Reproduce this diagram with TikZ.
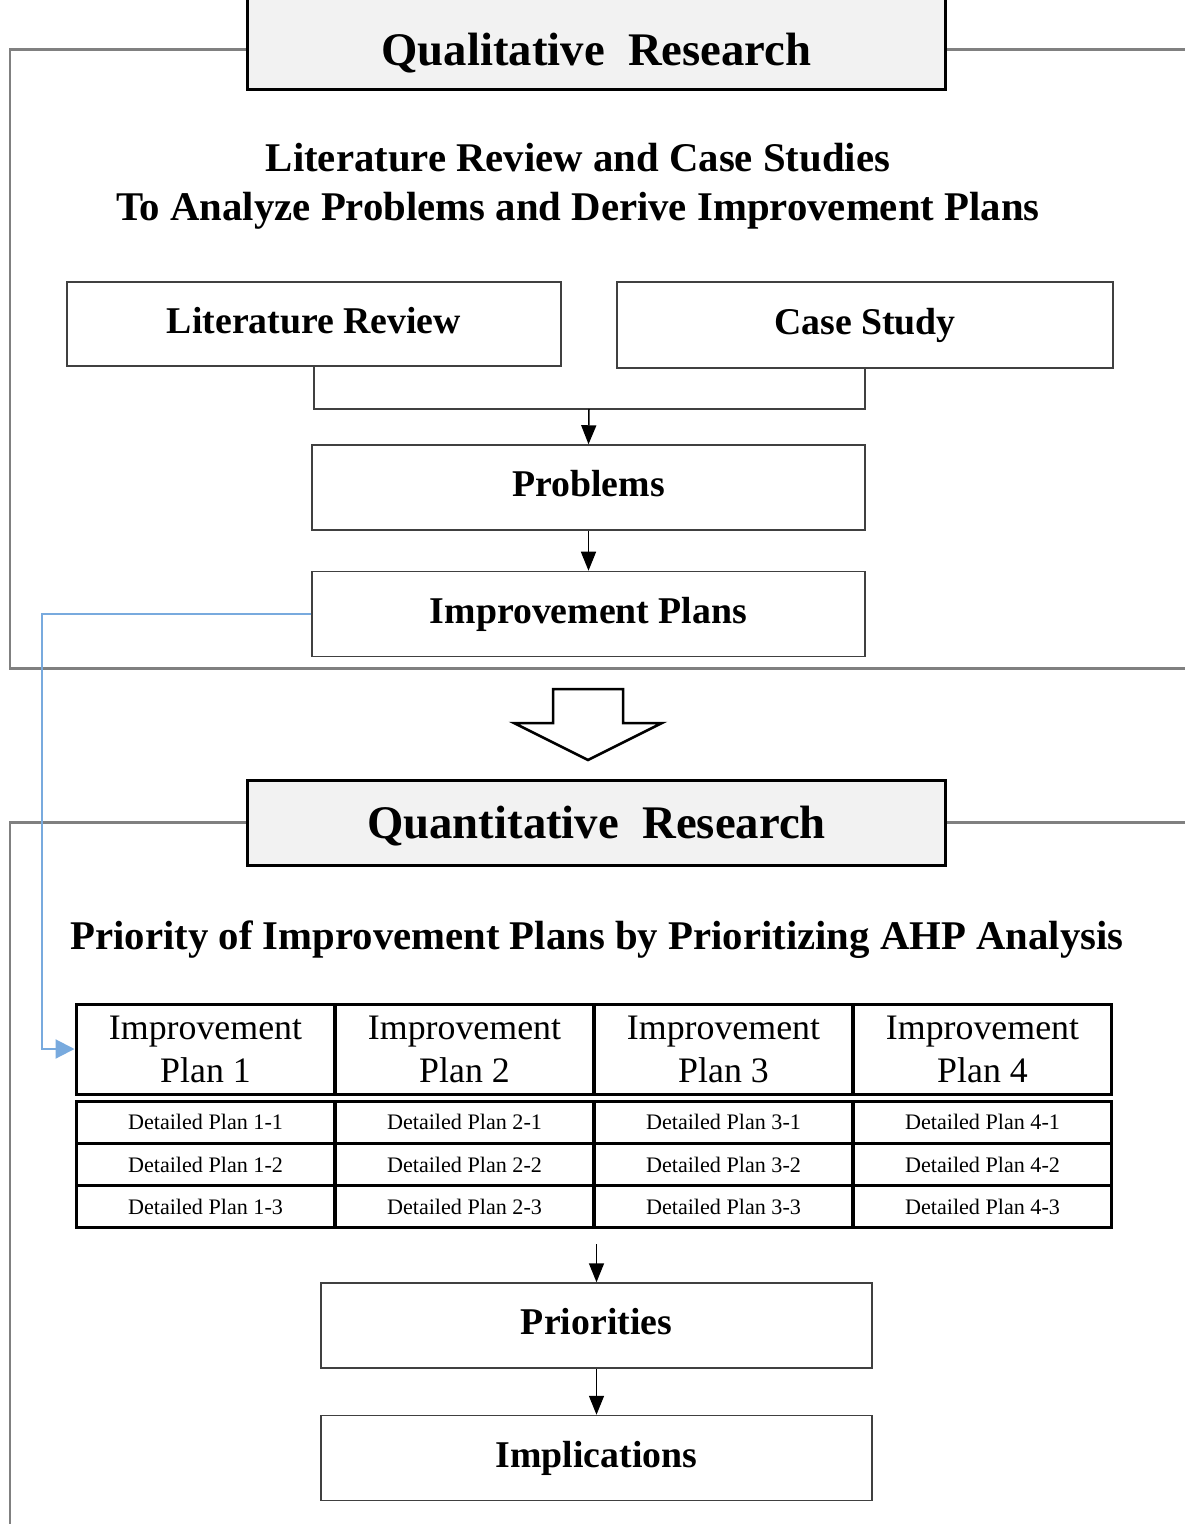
\documentclass[tikz,border=0pt]{standalone}
\usepackage{fontspec}
\setmainfont{Liberation Serif}
\usetikzlibrary{positioning,arrows.meta,calc}
\definecolor{frameC}{RGB}{128,128,128}
\definecolor{boxline}{RGB}{64,64,64}
\definecolor{headfill}{RGB}{242,242,242}
\definecolor{linkC}{RGB}{120,170,222}

\begin{document}
\begin{tikzpicture}[
  x=0.02cm, y=-0.02cm,
  headbox/.style={draw=black, fill=headfill, line width=0.06cm, minimum width=13.98cm},
  big/.style={font=\fontsize{26.6}{32}\selectfont\bfseries},
  sub/.style={font=\fontsize{23.2}{28}\selectfont\bfseries},
  box/.style={draw=boxline, line width=0.03cm, minimum height=1.7cm, text height=15pt, text depth=4.7pt,
    font=\fontsize{21.5}{26}\selectfont\bfseries},
  frame/.style={draw=frameC, line width=0.06cm},
  cell/.style={draw=black, line width=0.06cm, minimum width=5.18cm, inner sep=0pt, align=center},
  arr/.style={-{Triangle[length=0.38cm,width=0.3cm]}, line width=0.03cm},
  link/.style={-{Triangle[length=0.38cm,width=0.38cm]}, draw=linkC, line width=0.04cm},
]
\useasboundingbox (0,0) rectangle (1185,1524);

% ---------- Qualitative part ----------
\node[headbox, minimum height=1.84cm, label={[big, yshift=-0.18cm]center:Qualitative\ \ Research}] (qual) at (596.5,44) {};
\coordinate (qa) at (10,50);
\draw[frame] (qual.west |- qa) -- (qa) -- (10,668) -- (1185,668);
\draw[frame] (qual.east |- qa) -- (1185,50);

\node[sub] (sub1) at (578,158) {Literature Review and Case Studies};
\node[sub] (sub2) at (578,211) {To Analyze Problems and Derive Improvement Plans};

\node[box, minimum width=9.88cm, minimum height=1.68cm] (lit) at (314,324) {Literature Review};
\node[box, minimum width=9.92cm, minimum height=1.72cm] (case) at (865,325) {Case Study};

\coordinate (join) at (589,409);
\draw[draw=boxline, line width=0.03cm] (lit.south) |- (join) -| (case.south);
\node[box, minimum width=11.06cm] (prob) at (588.5,487.5) {Problems};
\draw[arr] (join) -- (prob.north);

\node[box, minimum width=11.06cm, below=0.8cm of prob] (plans) {Improvement Plans};
\draw[arr] (prob) -- (plans);

% hollow arrow between the two parts
\draw[line width=0.05cm, line join=miter] (553,689) -- (623,689) -- (623,723) -- (662,723)
  -- (588,760) -- (514,723) -- (553,723) -- cycle;

% ---------- Quantitative part ----------
\node[headbox, minimum height=1.7cm, label={[big, yshift=-0.08cm]center:Quantitative\ \ Research}] (quant) at (596.5,822.5) {};
\coordinate (qb) at (10,822.5);
\draw[frame] (quant.west) -- (qb) -- (10,1530);
\draw[frame] (quant.east) -- (1185,822.5);

\node[sub] (prior) at (597,940) {Priority of Improvement Plans by Prioritizing AHP Analysis};

% table of plans
\foreach \c in {1,...,4}{
  \pgfmathsetmacro{\x}{76+259*(\c-0.5)}
  \node[cell, minimum height=1.8cm, font=\fontsize{20.4}{24.4}\selectfont] (h\c) at (\x,1049) {Improvement\\Plan \c};
  \foreach \r in {1,2,3}{
    \pgfmathsetmacro{\y}{1101+42.33*(\r-0.5)}
    \node[cell, minimum height=0.846cm, font=\fontsize{12.6}{15}\selectfont] (d\c\r) at (\x,\y) {Detailed Plan \c-\r};
  }
}

\coordinate (lx) at (42,0);
\draw[link] (plans.west) -- (plans.west -| lx) |- (h1.west);

\coordinate (tq) at (596.5,1244);
\node[box, minimum width=11.02cm] (prio) at (596.5,1325.5) {Priorities};
\draw[arr] (tq) -- (prio.north);

\node[box, minimum width=11.02cm, below=0.92cm of prio] (impl) {Implications};
\draw[arr] (prio) -- (impl);

\end{tikzpicture}
\end{document}
